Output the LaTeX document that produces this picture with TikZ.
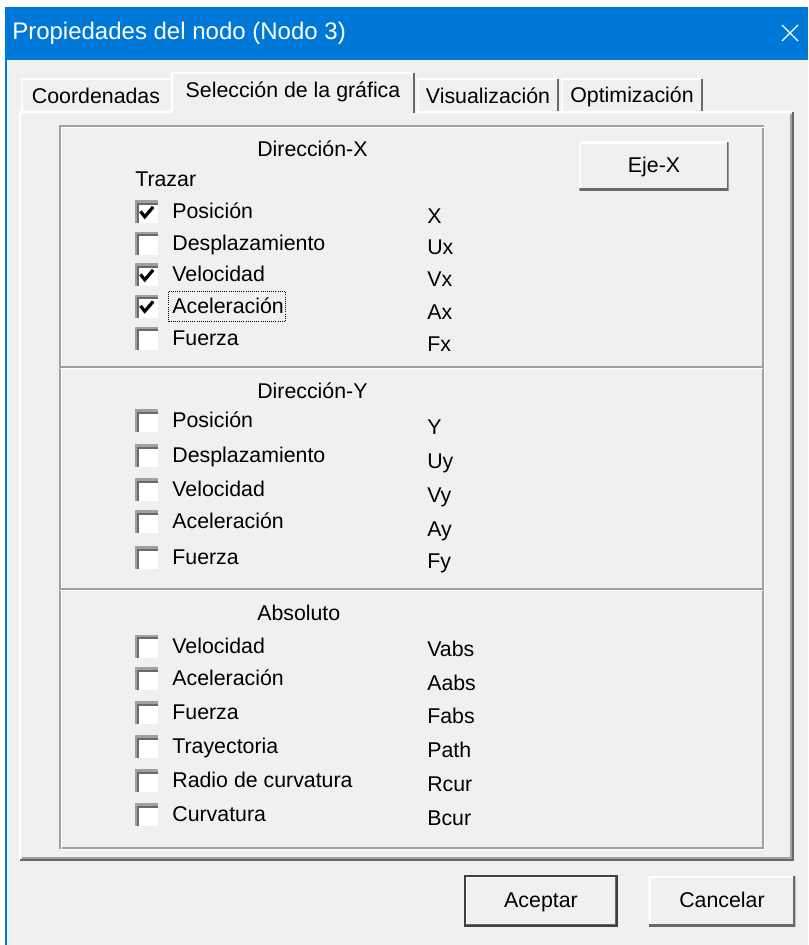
\documentclass[tikz,border=0pt]{standalone}
\usepackage{fontspec}
\setmainfont{Liberation Sans}
\usetikzlibrary{positioning}
\definecolor{winblue}{RGB}{0,120,215}
\definecolor{winface}{RGB}{240,240,240}
\definecolor{wingray}{RGB}{160,160,160}
\definecolor{windark}{RGB}{105,105,105}
\tikzset{txt/.style = {font=\fontsize{16pt}{19pt}\selectfont, inner sep=0pt,
                       text height=12pt, text depth=2pt, anchor=west},
         title/.style = {font=\fontsize{18pt}{21pt}\selectfont, text=white,
                         inner sep=0pt, anchor=west},
         tabtext/.style = {txt, anchor=center},
         edge/.style = {line width=1.2pt},
         chkbox/.style = {fill=white, minimum size=17pt, inner sep=0pt,
                          path picture={\draw [wingray, line width=3pt]
                            (path picture bounding box.south west) |- (path picture bounding box.north east);
                            \draw [windark, line width=1.4pt]
                            ([shift={(2.2pt,0pt)}]path picture bounding box.south west)
                            |- ([shift={(0pt,-2.2pt)}]path picture bounding box.north east);}},
         ticked/.style = {chkbox, label={[tickmark]center:}},
         tickmark/.style = {inner sep=0pt, minimum size=17pt,
                            path picture={\draw [line width=2.4pt]
                            ([shift={(-4.5pt,0.5pt)}]path picture bounding box.center)
                            -- ([shift={(-1.3pt,-3.6pt)}]path picture bounding box.center)
                            -- ([shift={(5pt,3.8pt)}]path picture bounding box.center);}},
         button/.style = {txt, anchor=center, fill=winface, text height=12pt,
                          path picture={\draw [white, line width=3pt]
                            (path picture bounding box.south west) |- (path picture bounding box.north east);
                            \draw [windark, line width=3pt]
                            (path picture bounding box.south west) -| (path picture bounding box.north east);}},
         defbutton/.style = {button, draw=black!75, line width=0.8pt}}

\begin{document}
\begin{tikzpicture}[x=0.75pt, y=-0.75pt]
    \useasboundingbox (0,0) rectangle (808,945);
    \fill [white] (0,0) rectangle (808,945);
    \fill [winblue] (5,7) rectangle (808,60);
    \fill [winface] (7,60) rectangle (808,945);
    \fill [winblue] (5,60) rectangle (7,945);

    \node [title] (ttl) at (12,33) {Propiedades del nodo (Nodo 3)};
    \draw [white, line width=1pt] (782,25) -- (798,41) (798,25) -- (782,41);

    % tabs behind the panel
    \draw [edge, white] (22,112) -- (22,79) -- (170,79);
    \draw [edge, white] (418,112) -- (418,79) -- (558,79);
    \draw [edge, windark] (558,79) -- (558,112);
    \draw [edge, white] (562,112) -- (562,79) -- (702,79);
    \draw [edge, windark] (702,79) -- (702,112);

    % panel
    \draw [edge, white] (20,860) -- (20,112) -- (793,112);
    \draw [edge, wingray] (791,114) -- (791,858) -- (22,858);
    \draw [edge, windark] (793,112) -- (793,860) -- (20,860);

    % selected tab
    \fill [winface] (172,73) rectangle (414,113.5);
    \draw [edge, white] (172,113) -- (172,73) -- (414,73);
    \draw [edge, windark] (414,73) -- (414,113);

    \node [tabtext] (tcoord) at (96,97) {Coordenadas};
    \node [tabtext] (tsel) at (293,91) {Selección de la gráfica};
    \node [tabtext] (tvis) at (488,97) {Visualización};
    \node [tabtext] (topt) at (632,96) {Optimización};

    % group box
    \draw [edge, wingray] (60,126) rectangle (763,848);
    \draw [edge, white] (61.5,127.5) rectangle (764.5,849.5);
    \draw [edge, wingray] (60,367) -- (763,367);
    \draw [edge, white] (60,368.5) -- (763,368.5);
    \draw [edge, wingray] (60,589) -- (763,589);
    \draw [edge, white] (60,590.5) -- (763,590.5);

    % X direction
    \node [txt] (hx) at (257,150) {Dirección-X};
    \node [txt] (trz) at (135,180) {Trazar};
    \node [button, minimum width=112pt, minimum height=36pt] (ejex) at (654,166) {Eje-X};

    \node [ticked] (bx1) at (146.5,212) {};
    \node [chkbox] (bx2) at (146.5,243.5) {};
    \node [ticked] (bx3) at (146.5,275) {};
    \node [ticked] (bx4) at (146.5,306.5) {};
    \node [chkbox] (bx5) at (146.5,338.5) {};
    \node [txt, right=10.5pt of bx1] (lx1) {Posición};
    \node [txt, right=10.5pt of bx2] (lx2) {Desplazamiento};
    \node [txt, right=10.5pt of bx3] (lx3) {Velocidad};
    \node [txt, right=10.5pt of bx4] (lx4) {Aceleración};
    \node [txt, right=10.5pt of bx5] (lx5) {Fuerza};
    \draw [densely dotted, line width=0.6pt] ([shift={(-2.5pt,4pt)}]lx4.north west)
          rectangle ([shift={(1pt,-4pt)}]lx4.south east);
    \node [txt] (sx1) at (427,217) {X};
    \node [txt] (sx2) at (427,248) {Ux};
    \node [txt] (sx3) at (427,280) {Vx};
    \node [txt] (sx4) at (427,313) {Ax};
    \node [txt] (sx5) at (427,345) {Fx};

    % Y direction
    \node [txt] (hy) at (257,392) {Dirección-Y};
    \node [chkbox] (by1) at (146.5,421) {};
    \node [chkbox] (by2) at (146.5,456) {};
    \node [chkbox] (by3) at (146.5,490) {};
    \node [chkbox] (by4) at (146.5,522) {};
    \node [chkbox] (by5) at (146.5,558) {};
    \node [txt, right=10.5pt of by1] (ly1) {Posición};
    \node [txt, right=10.5pt of by2] (ly2) {Desplazamiento};
    \node [txt, right=10.5pt of by3] (ly3) {Velocidad};
    \node [txt, right=10.5pt of by4] (ly4) {Aceleración};
    \node [txt, right=10.5pt of by5] (ly5) {Fuerza};
    \node [txt] (sy1) at (427,428) {Y};
    \node [txt] (sy2) at (427,462) {Uy};
    \node [txt] (sy3) at (427,496) {Vy};
    \node [txt] (sy4) at (427,530) {Ay};
    \node [txt] (sy5) at (427,562) {Fy};

    % absolute
    \node [txt] (habs) at (257,614) {Absoluto};
    \node [chkbox] (ba1) at (146.5,646.5) {};
    \node [chkbox] (ba2) at (146.5,679) {};
    \node [chkbox] (ba3) at (146.5,713) {};
    \node [chkbox] (ba4) at (146.5,747) {};
    \node [chkbox] (ba5) at (146.5,781) {};
    \node [chkbox] (ba6) at (146.5,815) {};
    \node [txt, right=10.5pt of ba1] (la1) {Velocidad};
    \node [txt, right=10.5pt of ba2] (la2) {Aceleración};
    \node [txt, right=10.5pt of ba3] (la3) {Fuerza};
    \node [txt, right=10.5pt of ba4] (la4) {Trayectoria};
    \node [txt, right=10.5pt of ba5] (la5) {Radio de curvatura};
    \node [txt, right=10.5pt of ba6] (la6) {Curvatura};
    \node [txt] (sa1) at (427,650) {Vabs};
    \node [txt] (sa2) at (427,684) {Aabs};
    \node [txt] (sa3) at (427,717) {Fabs};
    \node [txt] (sa4) at (427,751) {Path};
    \node [txt] (sa5) at (427,785) {Rcur};
    \node [txt] (sa6) at (427,819) {Bcur};

    % dialog buttons
    \node [defbutton, minimum width=114pt, minimum height=37.5pt] (ok) at (541,901) {Aceptar};
    \node [button, minimum width=110pt, minimum height=37.5pt] (cancel) at (722,901) {Cancelar};
  \end{tikzpicture}
\end{document}
